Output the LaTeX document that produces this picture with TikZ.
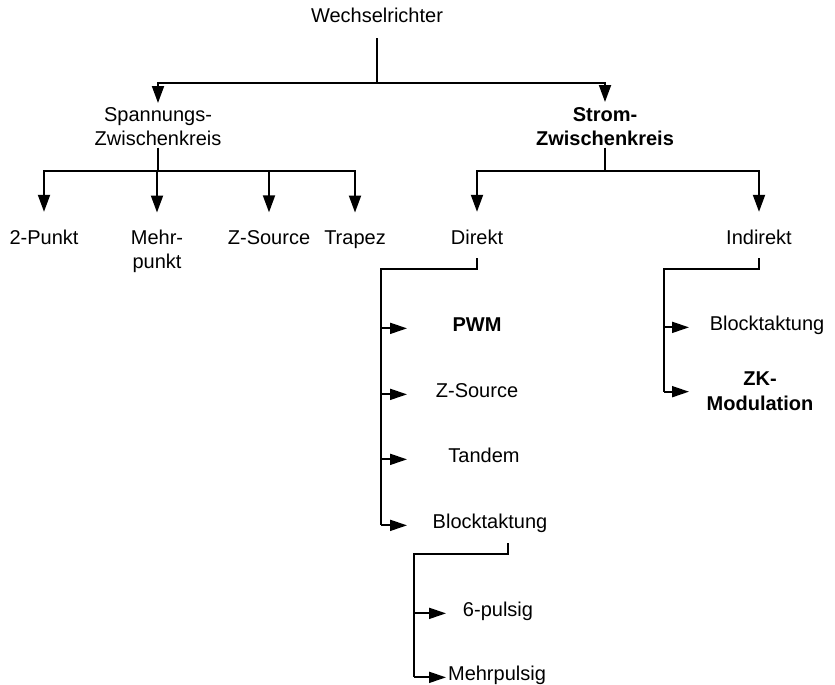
\documentclass[tikz,border=0pt]{standalone}
\usepackage{fontspec}
\setmainfont{Liberation Sans}
\usetikzlibrary{arrows.meta}
\begin{document}
\begin{tikzpicture}[x=1pt,y=-1pt,
  ln/.style={line width=1.9pt},
  arr/.style={ln,-{Triangle[length=17pt,width=12pt]}},
  harr/.style={ln,-{Triangle[length=17pt,width=11pt]}},
  lbl/.style={inner sep=0pt,font=\fontsize{20}{24}\selectfont,align=center},
  boldlbl/.style={inner sep=0pt,font=\fontsize{20}{24}\selectfont\bfseries,align=center}
]
\useasboundingbox (0,0) rectangle (835,685);

% labels
\node[lbl,anchor=base] (wr) at (377,23) {Wechselrichter};
\node[lbl,anchor=north] (svk) at (158,107) {Spannungs-\\Zwischenkreis};
\node[boldlbl,anchor=north] (strom) at (605,107) {Strom-\\Zwischenkreis};
\node[lbl,anchor=base] (p2) at (44,244) {2-Punkt};
\node[lbl,anchor=north] (mehr) at (157,230) {Mehr-\\punkt};
\node[lbl,anchor=base] (zs1) at (269,244) {Z-Source};
\node[lbl,anchor=base] (trap) at (355,244) {Trapez};
\node[lbl,anchor=base] (direkt) at (477,244) {Direkt};
\node[lbl,anchor=base] (indirekt) at (759,244) {Indirekt};
\node[boldlbl,anchor=base] (pwm) at (477,331) {PWM};
\node[lbl,anchor=base] (zs2) at (477,397) {Z-Source};
\node[lbl,anchor=base] (tandem) at (484,462) {Tandem};
\node[lbl,anchor=base] (block1) at (490,528) {Blocktaktung};
\node[lbl,anchor=base] (block2) at (767,330) {Blocktaktung};
\node[boldlbl,anchor=north,font=\fontsize{20}{25}\selectfont\bfseries] (zk) at (760,372) {ZK-\\Modulation};
\node[lbl,anchor=base] (puls6) at (498,616) {6-pulsig};
\node[lbl,anchor=base] (mehrp) at (497,680) {Mehrpulsig};

% top level
\coordinate (j0) at (377,83);
\draw[ln,shorten <=15pt] (wr.south) -- (j0);
\draw[arr,shorten >=4pt] (j0) -| (svk.north);
\draw[arr,shorten >=5pt] (j0) -| (strom.north);

% Spannungs-Zwischenkreis
\coordinate (j1) at (158,171);
\draw[ln,shorten <=2pt] (svk.south) -- (j1);
\foreach \n in {p2,mehr,zs1,trap} \draw[arr,shorten >=17.5pt] (j1) -| (\n.north);

% Strom-Zwischenkreis
\coordinate (j2) at (605,171);
\draw[ln,shorten <=2pt] (strom.south) -- (j2);
\draw[arr,shorten >=17.5pt] (j2) -| (direkt.north);
\draw[arr,shorten >=17.5pt] (j2) -| (indirekt.north);

% Direkt
\coordinate (dtop) at (381,269);
\draw[ln,shorten <=14pt] (direkt.south) |- (dtop) -- (dtop |- block1.mid);
\foreach \n in {pwm,zs2,tandem,block1} \draw[harr] (dtop |- \n.mid) -- ++(26,0);

% Blocktaktung (Direkt)
\coordinate (btop) at (414,554);
\draw[ln,shorten <=11pt] ([xshift=18pt]block1.south) |- (btop) -- (btop |- mehrp.mid);
\foreach \n in {puls6,mehrp} \draw[harr] (btop |- \n.mid) -- ++(32,0);

% Indirekt
\coordinate (itop) at (664,269);
\draw[ln,shorten <=14pt] (indirekt.south) |- (itop) -- (itop |- zk.center);
\draw[harr] (itop |- block2.mid) -- ++(25,0);
\draw[harr] (itop |- zk.center) -- ++(25,0);
\end{tikzpicture}
\end{document}
